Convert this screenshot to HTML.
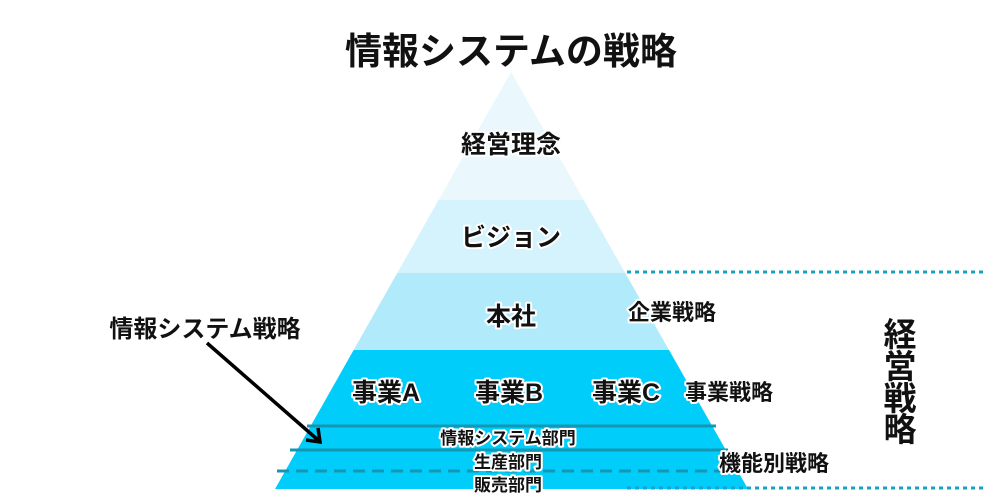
<!DOCTYPE html>
<html><head><meta charset="utf-8"><style>
html,body{margin:0;padding:0;background:#fff;width:1000px;height:500px;overflow:hidden}
svg text{font-family:"Liberation Sans","Noto Sans CJK JP",sans-serif;font-weight:bold;fill:#111}
.o{stroke:#fff;stroke-width:4;paint-order:stroke;stroke-linejoin:round}
</style></head><body>
<svg width="1000" height="500" viewBox="0 0 1000 500" xmlns="http://www.w3.org/2000/svg">
<defs><clipPath id="tri"><polygon points="511,72 748,489 275,489"/></clipPath></defs>
<g clip-path="url(#tri)">
<rect x="0" y="60" width="1000" height="141" fill="#eaf8fd"/>
<rect x="0" y="200" width="1000" height="74" fill="#d4f3fc"/>
<rect x="0" y="273" width="1000" height="78" fill="#b1ebfb"/>
<rect x="0" y="350" width="1000" height="140" fill="#00cdf9"/>
</g>
<line x1="307" y1="426" x2="716" y2="426" stroke="#1496b4" stroke-width="3"/>
<line x1="290" y1="450" x2="728" y2="450" stroke="#1496b4" stroke-width="3"/>
<line x1="277" y1="471" x2="740" y2="471" stroke="#1496b4" stroke-width="3" stroke-dasharray="12,7"/>
<line x1="627" y1="272" x2="985" y2="272" stroke="#1aa3c6" stroke-width="3" stroke-dasharray="4,4"/>
<line x1="627" y1="488" x2="985" y2="488" stroke="#1aa3c6" stroke-width="3" stroke-dasharray="4,4"/>
<text x="511" y="64" font-size="37" text-anchor="middle">情報システムの戦略</text>
<text x="511" y="153" font-size="25" text-anchor="middle" class="o">経営理念</text>
<text x="511" y="246" font-size="25" text-anchor="middle" class="o">ビジョン</text>
<text x="511" y="325" font-size="25" text-anchor="middle" class="o">本社</text>
<text x="672" y="320" font-size="22" text-anchor="middle" class="o">企業戦略</text>
<text x="386" y="401" font-size="25" text-anchor="middle" class="o">事業A</text>
<text x="509" y="401" font-size="25" text-anchor="middle" class="o">事業B</text>
<text x="626" y="401" font-size="25" text-anchor="middle" class="o">事業C</text>
<text x="729" y="400" font-size="22" text-anchor="middle" class="o">事業戦略</text>
<text x="508" y="444" font-size="17" text-anchor="middle" class="o">情報システム部門</text>
<text x="508" y="468" font-size="17" text-anchor="middle" class="o">生産部門</text>
<text x="508" y="491" font-size="17" text-anchor="middle" class="o">販売部門</text>
<text x="774" y="471" font-size="22" text-anchor="middle" class="o">機能別戦略</text>
<text x="205" y="337" font-size="24" text-anchor="middle">情報システム戦略</text>
<g font-size="33" text-anchor="middle">
<text x="900" y="346">経</text><text x="900" y="378">営</text><text x="900" y="410">戦</text><text x="900" y="441">略</text>
</g>
<line x1="207" y1="343" x2="318" y2="440" stroke="#000" stroke-width="3.5"/>
<polyline points="306,440 320,442 318,428" fill="none" stroke="#000" stroke-width="3.5"/>
</svg>
</body></html>
